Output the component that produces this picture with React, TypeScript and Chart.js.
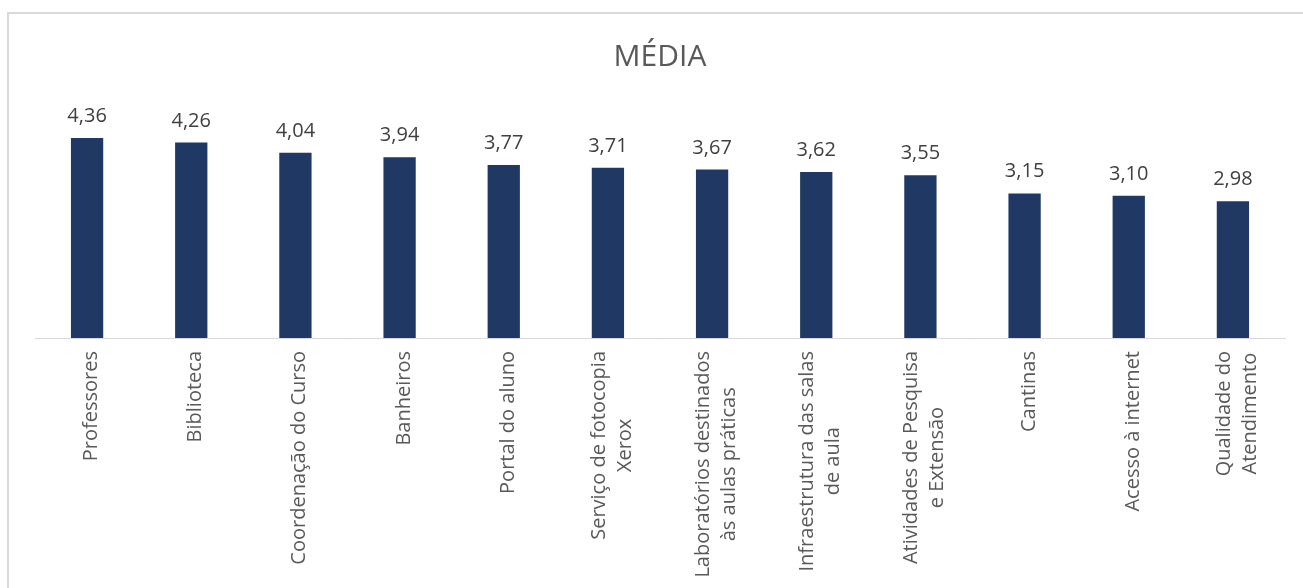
import React, { useEffect, useRef } from "react";
import { Chart, registerables } from "chart.js";

Chart.register(...registerables);

const chartTitle = "MÉDIA";
const categories: string[][] = [
  ["Professores"],
  ["Biblioteca"],
  ["Coordenação do Curso"],
  ["Banheiros"],
  ["Portal do aluno"],
  ["Serviço de fotocopia", "Xerox"],
  ["Laboratórios destinados", "às aulas práticas"],
  ["Infraestrutura das salas", "de aula"],
  ["Atividades de Pesquisa", "e Extensão"],
  ["Cantinas"],
  ["Acesso à internet"],
  ["Qualidade do", "Atendimento"],
];
const mediaValues = [4.36, 4.26, 4.04, 3.94, 3.77, 3.71, 3.67, 3.62, 3.55, 3.15, 3.1, 2.98];

const FONT = "'Open Sans', 'Noto Sans', sans-serif";

const formatValue = (v: number) => v.toFixed(2).replace(".", ",");

const valueLabelsPlugin = {
  id: "valueLabels",
  afterDatasetsDraw(chart: any) {
    const ctx = chart.ctx;
    const meta = chart.getDatasetMeta(0);
    ctx.save();
    ctx.font = `20px ${FONT}`;
    ctx.fillStyle = "#404040";
    ctx.textAlign = "center";
    ctx.textBaseline = "alphabetic";
    meta.data.forEach((bar: any, i: number) => {
      const v = chart.data.datasets[0].data[i] as number;
      ctx.fillText(formatValue(v), bar.x, bar.y - 16);
    });
    ctx.restore();
  },
};

const rotatedLabelsPlugin = {
  id: "rotatedLabels",
  afterDraw(chart: any) {
    const ctx = chart.ctx;
    const xs = chart.scales.x;
    const top = chart.chartArea.bottom + 13;
    const lineH = 26;
    ctx.save();
    ctx.font = `20px ${FONT}`;
    ctx.fillStyle = "#595959";
    ctx.textAlign = "center";
    ctx.textBaseline = "alphabetic";
    (chart.data.labels as string[][]).forEach((lines, i) => {
      const cx = xs.getPixelForTick(i);
      const w = Math.max(...lines.map((l) => ctx.measureText(l).width));
      const n = lines.length;
      ctx.save();
      ctx.translate(cx, top);
      ctx.rotate(-Math.PI / 2);
      lines.forEach((l, j) => {
        const off = 10 + (j - (n - 1) / 2) * lineH;
        ctx.fillText(l, -w / 2, off);
      });
      ctx.restore();
    });
    ctx.restore();
  },
};

export default function App() {
  const canvasRef = useRef<HTMLCanvasElement | null>(null);

  useEffect(() => {
    if (!canvasRef.current) return;
    const chart = new Chart(canvasRef.current, {
      type: "bar",
      data: {
        labels: categories,
        datasets: [
          {
            label: chartTitle,
            data: mediaValues,
            backgroundColor: "#1F3864",
            borderWidth: 0,
            barPercentage: 0.31,
            categoryPercentage: 1,
          },
        ],
      },
      options: {
        animation: false,
        responsive: true,
        maintainAspectRatio: false,
        devicePixelRatio: 1,
        layout: { padding: { left: 35, right: 18, top: 0, bottom: 0 } },
        plugins: {
          legend: { display: false },
          tooltip: { enabled: false },
          title: {
            display: true,
            text: chartTitle,
            color: "#595959",
            font: { family: FONT, size: 30, weight: "normal" as any },
            padding: { top: 39.5, bottom: 33.1 },
          },
        },
        scales: {
          x: {
            grid: { display: false },
            border: { display: true, color: "#D9D9D9", width: 1 },
            ticks: { display: false },
            afterFit: (scale: any) => {
              scale.height = 250;
            },
          },
          y: {
            display: false,
            min: 0,
            max: 5,
          },
        },
      },
      plugins: [valueLabelsPlugin, rotatedLabelsPlugin],
    });
    return () => chart.destroy();
  }, []);

  return (
    <div style={{ position: "fixed", left: 0, top: 0, width: 1303, height: 588, overflow: "hidden", background: "#fff" }}>
      <div
        style={{
          position: "absolute",
          left: 7,
          top: 12,
          width: 1330,
          height: 620,
          border: "2px solid #D9D9D9",
          boxSizing: "border-box",
        }}
      />
      <div style={{ position: "absolute", left: 0, top: 0, width: 1303, height: 588 }}>
        <canvas ref={canvasRef} />
      </div>
    </div>
  );
}
